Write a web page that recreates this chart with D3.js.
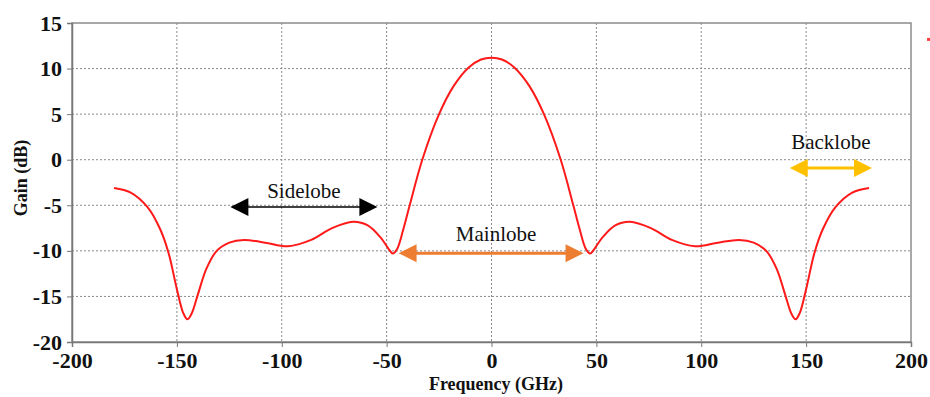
<!DOCTYPE html>
<html>
<head>
<meta charset="utf-8">
<script src="https://cdn.jsdelivr.net/npm/d3@7"></script>
<style>
  body { margin: 0; background: #fff; }
  text { font-family: "Liberation Serif", "Times New Roman", serif; }
</style>
</head>
<body>
<div id="chart"></div>
<script>
// gain pattern
var freq = [-180, -172, -164, -158, -154, -150, -147, -145, -143, -140, -136, -131, -125, -118, -108, -97, -86, -76, -66, -59, -53, -49, -47, -45, -42, -39, -33, -25, -18, -11, -5, 0,
            5, 11, 18, 25, 33, 39, 42, 45, 47, 49, 53, 59, 66, 76, 86, 97, 108, 118, 125, 131, 136, 140, 143, 145, 147, 150, 154, 158, 164, 172, 180];
var gain = [-3.1, -3.6, -5.2, -7.6, -10.2, -14.2, -16.8, -17.5, -16.9, -14.8, -12.0, -10.0, -9.1, -8.8, -9.1, -9.5, -8.8, -7.5, -6.8, -7.2, -8.5, -9.8, -10.3, -9.8, -7.6, -5.0, 0, 5, 8.1, 10.1, 11.0, 11.2,
            11.0, 10.1, 8.1, 5, 0, -5.0, -7.6, -9.8, -10.3, -9.8, -8.5, -7.2, -6.8, -7.5, -8.8, -9.5, -9.1, -8.8, -9.1, -10.0, -12.0, -14.8, -16.9, -17.5, -16.8, -14.2, -10.2, -7.6, -5.2, -3.6, -3.1];

var xTicks = [-200, -150, -100, -50, 0, 50, 100, 150, 200];
var yTicks = [-20, -15, -10, -5, 0, 5, 10, 15];

// annotations (data units)
var arrowLabels = ["Sidelobe", "Mainlobe", "Backlobe"];
var arrowFrom = [-124.5, -44.3, 142.2];
var arrowTo = [-54.4, 43.9, 181.4];
var arrowLevel = [-5.2, -10.25, -0.9];
var labelLevel = [-4.2, -8.9, 1.2];
var arrowColors = ["#000000", "#ed7d31", "#ffc000"];

var width = 930, height = 397;
var margin = {top: 23, right: 19, bottom: 55, left: 72};

var svg = d3.select("#chart").append("svg")
  .attr("width", width)
  .attr("height", height);

var x = d3.scaleLinear().domain([-200, 200]).range([margin.left, width - margin.right]);
var y = d3.scaleLinear().domain([-20, 15]).range([height - margin.bottom, margin.top]);

// dotted grid
svg.append("g")
  .selectAll("line")
  .data(xTicks.slice(1, -1))
  .enter().append("line")
  .attr("x1", d => x(d)).attr("x2", d => x(d))
  .attr("y1", y(15)).attr("y2", y(-20))
  .attr("stroke", "#8a8a8a").attr("stroke-width", 1)
  .attr("stroke-dasharray", "2,2");

svg.append("g")
  .selectAll("line")
  .data(yTicks.slice(1, -1))
  .enter().append("line")
  .attr("x1", x(-200)).attr("x2", x(200))
  .attr("y1", d => y(d)).attr("y2", d => y(d))
  .attr("stroke", "#8a8a8a").attr("stroke-width", 1)
  .attr("stroke-dasharray", "2,2");

// frame
svg.append("rect")
  .attr("x", x(-200)).attr("y", y(15))
  .attr("width", x(200) - x(-200)).attr("height", y(-20) - y(15))
  .attr("fill", "none").attr("stroke", "#8c8c8c").attr("stroke-width", 1.5);

// axes (plain hyphen for negatives, as in the original)
var fmt = d => String(d);
var xAxis = svg.append("g")
  .attr("transform", "translate(0," + y(-20) + ")")
  .call(d3.axisBottom(x).tickValues(xTicks).tickFormat(fmt).tickSize(5).tickPadding(6));
var yAxis = svg.append("g")
  .attr("transform", "translate(" + x(-200) + ",0)")
  .call(d3.axisLeft(y).tickValues(yTicks).tickFormat(fmt).tickSize(5).tickPadding(5));

[xAxis, yAxis].forEach(function(a) {
  a.select(".domain").attr("stroke", "#777").attr("stroke-width", 1.5);
  a.selectAll(".tick line").attr("stroke", "#777");
  a.selectAll(".tick text")
    .attr("fill", "#111")
    .style("font-family", "'Liberation Serif', serif")
    .style("font-weight", "bold")
    .style("font-size", "22px");
});
xAxis.selectAll(".tick text").attr("dy", "0.66em");

// axis titles
svg.append("text")
  .attr("x", 496).attr("y", 390)
  .attr("text-anchor", "middle")
  .style("font-weight", "bold").style("font-size", "18px")
  .attr("fill", "#111")
  .text("Frequency (GHz)");

svg.append("text")
  .attr("transform", "translate(27,178) rotate(-90)")
  .attr("text-anchor", "middle")
  .style("font-weight", "bold").style("font-size", "18px")
  .attr("fill", "#111")
  .text("Gain (dB)");

// curve
var pts = freq.map((f, i) => [f, gain[i]]);
var line = d3.line()
  .x(d => x(d[0]))
  .y(d => y(d[1]))
  .curve(d3.curveCatmullRom.alpha(0.5));

svg.append("path")
  .datum(pts)
  .attr("d", line)
  .attr("fill", "none")
  .attr("stroke", "#ff1a1a")
  .attr("stroke-width", 2);

// double arrows with labels
var headLen = 18, headHalf = 9;
arrowLabels.forEach(function(lbl, i) {
  var x1 = x(arrowFrom[i]), x2 = x(arrowTo[i]), yy = y(arrowLevel[i]);
  var g = svg.append("g");
  g.append("line")
    .attr("x1", x1 + headLen - 2).attr("x2", x2 - headLen + 2)
    .attr("y1", yy).attr("y2", yy)
    .attr("stroke", arrowColors[i]).attr("stroke-width", i == 0 ? 1.5 : 3);
  g.append("path")
    .attr("d", "M" + x1 + "," + yy + "L" + (x1 + headLen) + "," + (yy - headHalf) + "L" + (x1 + headLen) + "," + (yy + headHalf) + "Z")
    .attr("fill", arrowColors[i]);
  g.append("path")
    .attr("d", "M" + x2 + "," + yy + "L" + (x2 - headLen) + "," + (yy - headHalf) + "L" + (x2 - headLen) + "," + (yy + headHalf) + "Z")
    .attr("fill", arrowColors[i]);
  g.append("text")
    .attr("x", (x1 + x2) / 2 + (i == 1 ? 5 : 0))
    .attr("y", y(labelLevel[i]))
    .attr("text-anchor", "middle")
    .style("font-size", "21px")
    .attr("fill", "#111")
    .text(lbl);
});

// small red speck at the top right
svg.append("rect")
  .attr("x", x(208.6) - 2).attr("y", y(13.2) - 1.5)
  .attr("width", 4).attr("height", 3)
  .attr("fill", "#ff3b3b");
</script>
</body>
</html>
